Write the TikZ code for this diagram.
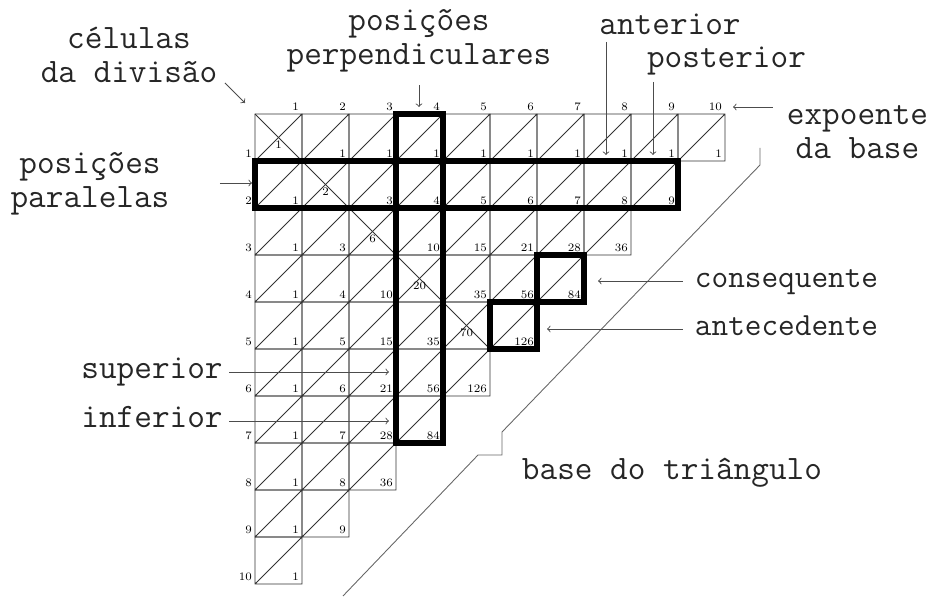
\documentclass[tikz,border=0pt]{standalone}
\usepackage{fontspec}
\usepackage{tikz}
\usetikzlibrary{arrows}
\tikzstyle{cellline} = [draw=black!80, line width=0.5pt]
\tikzstyle{num} = [anchor=south east, inner sep=1.6pt, font=\fontsize{6.5}{7}\selectfont]
\tikzstyle{thickbox} = [draw=black, line width=3.3pt]
\tikzstyle{note} = [text=black!85, font=\ttfamily\fontsize{19.5}{19.5}\selectfont, align=center, inner sep=2pt]
\tikzstyle{smallnote} = [note, font=\ttfamily\fontsize{18.4}{18.4}\selectfont]
\tikzstyle{arrow} = [->, >=to, draw=black!70, line width=0.5pt]
\tikzstyle{baseedge} = [draw=black!60, line width=0.5pt]
\begin{document}
\begin{tikzpicture}[x=0.94cm, y=0.94cm]
\useasboundingbox (-5.4255,2.4255) rectangle (14.5106,-10.2553);

% triangle of cells, one row of the list per row of the picture
\foreach \row [count=\i] in {{1,1,1,1,1,1,1,1,1,1},{1,2,3,4,5,6,7,8,9},{1,3,6,10,15,21,28,36},
  {1,4,10,20,35,56,84},{1,5,15,35,70,126},{1,6,21,56,126},{1,7,28,84},{1,8,36},{1,9},{1}} {
  \foreach \v [count=\j] in \row {
    \draw[cellline] (\j-1,1-\i) rectangle (\j,-\i) (\j-1,-\i) -- (\j,1-\i);
    \ifnum\i=\j
      \draw[cellline] (\j-1,1-\i) -- (\j,-\i);
      \node (c\i-\j) [num, anchor=north] at (\j-0.5,0.5-\i) {\v};
    \else
      \node (c\i-\j) [num] at (\j,-\i) {\v};
    \fi
  }
  \node (r\i) [num] at (0,-\i) {\i};
  \node (k\i) [num] at (\i,0) {\i};
}

% highlighted positions
\draw[thickbox] (3,0) rectangle (4,-7);
\draw[thickbox] (0,-1) rectangle (9,-2);
\draw[thickbox] (6,-3) rectangle (7,-4);
\draw[thickbox] (5,-4) rectangle (6,-5);

% base of the triangle
\draw[baseedge] (10.745,-0.723) -- (10.745,-1.085) -- (5.255,-6.766) -- (5.255,-7.255) -- (4.745,-7.255) -- (1.872,-10.255);

% labels
\node (celulas) [note] at (-2.681,1.255) {células\\da divisão};
\node (perpend) [note] at (3.489,1.564) {posições\\perpendiculares};
\node (anterior) [note, anchor=base] at (8.830,1.681) {anterior};
\node (posterior) [note, anchor=base] at (10.032,0.979) {posterior};
\node (expoente) [note] at (12.819,-0.383) {expoente\\da base};
\node (paralelas) [note] at (-3.511,-1.479) {posições\\paralelas};
\node (consequente) [smallnote, anchor=base] at (11.309,-3.681) {consequente};
\node (antecedente) [smallnote, anchor=base] at (11.309,-4.723) {antecedente};
\node (superior) [note, anchor=base] at (-2.191,-5.617) {superior};
\node (inferior) [note, anchor=base] at (-2.191,-6.660) {inferior};
\node (basetri) [note, anchor=base] at (8.872,-7.787) {base do triângulo};

% arrow ends
\coordinate (celulasA) at (-0.638,0.660);   \coordinate (celulasB) at (-0.213,0.234);
\coordinate (perpendA) at (3.489,0.617);    \coordinate (perpendB) at (3.489,0.149);
\coordinate (anteriorA) at (7.468,1.532);   \coordinate (anteriorB) at (7.468,-0.872);
\coordinate (posteriorA) at (8.468,0.681);  \coordinate (posteriorB) at (8.468,-0.872);
\coordinate (expoenteA) at (11.021,0.149);  \coordinate (expoenteB) at (10.170,0.149);
\coordinate (paralelasA) at (-0.745,-1.468); \coordinate (paralelasB) at (-0.064,-1.468);
\coordinate (consequenteA) at (9.106,-3.553); \coordinate (consequenteB) at (7.298,-3.553);
\coordinate (antecedenteA) at (9.106,-4.574); \coordinate (antecedenteB) at (6.213,-4.574);
\coordinate (superiorA) at (-0.553,-5.489); \coordinate (superiorB) at (2.851,-5.489);
\coordinate (inferiorA) at (-0.553,-6.532); \coordinate (inferiorB) at (2.851,-6.532);

\draw[arrow] (celulasA) -- (celulasB);
\draw[arrow] (perpendA) -- (perpendB);
\draw[arrow] (anteriorA) -- (anteriorB);
\draw[arrow] (posteriorA) -- (posteriorB);
\draw[arrow] (expoenteA) -- (expoenteB);
\draw[arrow] (paralelasA) -- (paralelasB);
\draw[arrow] (consequenteA) -- (consequenteB);
\draw[arrow] (antecedenteA) -- (antecedenteB);
\draw[arrow] (superiorA) -- (superiorB);
\draw[arrow] (inferiorA) -- (inferiorB);
\end{tikzpicture}
\end{document}
